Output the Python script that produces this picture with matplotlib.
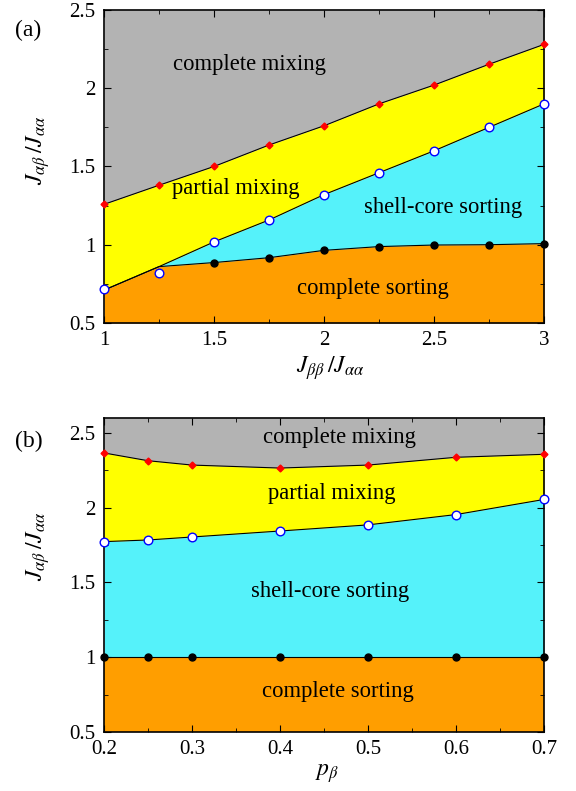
import numpy as np
import matplotlib.pyplot as plt
from matplotlib.ticker import MultipleLocator

plt.rcParams['font.family'] = ['Liberation Serif', 'DejaVu Serif']
plt.rcParams['mathtext.fontset'] = 'stix'

# --- panel (a) data ---
x_a = [1, 1.25, 1.5, 1.75, 2, 2.25, 2.5, 2.75, 3]
red_a = [1.258, 1.38, 1.50, 1.637, 1.76, 1.90, 2.02, 2.153, 2.28]
blue_a = [0.715, 0.82, 1.018, 1.158, 1.32, 1.46, 1.60, 1.75, 1.90]
black_x_a = [1.5, 1.75, 2, 2.25, 2.5, 2.75, 3]
black_a = [0.886, 0.917, 0.964, 0.988, 0.998, 1.0, 1.007]
# region boundaries (lines) in panel (a)
upper_line_a = [0.71, 0.86, 1.018, 1.158, 1.32, 1.46, 1.60, 1.75, 1.90]
lower_line_a = [0.71, 0.86, 0.886, 0.917, 0.964, 0.988, 0.998, 1.0, 1.007]

# --- panel (b) data ---
x_b = [0.2, 0.25, 0.3, 0.4, 0.5, 0.6, 0.7]
red_b = [2.366, 2.314, 2.285, 2.265, 2.285, 2.337, 2.357]
blue_b = [1.773, 1.784, 1.804, 1.844, 1.885, 1.954, 2.055]
black_b = [1.0, 1.0, 1.0, 1.0, 1.0, 1.0, 1.0]

c_gray = '#b3b3b3'
c_yellow = '#ffff00'
c_cyan = '#55f2fa'
c_orange = '#ff9e00'

fig = plt.figure(figsize=(5.76, 7.91), dpi=100)
ax1 = fig.add_axes([0.1806, 0.5917, 0.7639, 0.3957])
ax2 = fig.add_axes([0.1806, 0.0746, 0.7639, 0.397])


def draw_panel(ax, x, red, up, low, ylim):
    x = np.asarray(x)
    ax.fill_between(x, red, ylim[1], color=c_gray, lw=0)
    ax.fill_between(x, up, red, color=c_yellow, lw=0)
    ax.fill_between(x, low, up, color=c_cyan, lw=0)
    ax.fill_between(x, ylim[0], low, color=c_orange, lw=0)
    ax.plot(x, red, color='k', lw=0.8)
    ax.plot(x, up, color='k', lw=0.8)
    ax.plot(x, low, color='k', lw=0.8)


def style(ax):
    ax.tick_params(which='both', direction='in', top=True, right=True,
                   labelsize=15, pad=6)
    ax.tick_params(which='major', length=5)
    ax.tick_params(which='minor', length=3)
    for s in ax.spines.values():
        s.set_linewidth(1.2)


# panel (a)
draw_panel(ax1, x_a, red_a, upper_line_a, lower_line_a, (0.5, 2.5))
ax1.plot(x_a, red_a, 'D', color='red', ms=3.5, mec='red', clip_on=False, zorder=5)
ax1.plot(x_a, blue_a, 'o', mfc='white', mec='blue', mew=1.0, ms=6.2, clip_on=False, zorder=5)
ax1.plot(black_x_a, black_a, 'o', color='k', ms=5, clip_on=False, zorder=5)
ax1.set_xlim(1, 3)
ax1.set_ylim(0.5, 2.5)
ax1.set_xticks([1, 1.5, 2, 2.5, 3])
ax1.set_xticklabels(['1', '1.5', '2', '2.5', '3'])
ax1.xaxis.set_minor_locator(MultipleLocator(0.25))
ax1.set_yticks([0.5, 1, 1.5, 2, 2.5])
ax1.set_yticklabels(['0.5', '1', '1.5', '2', '2.5'])
ax1.yaxis.set_minor_locator(MultipleLocator(0.25))
style(ax1)
ax1.set_xlabel(r'$J_{\beta\beta}\,/J_{\alpha\alpha}$', fontsize=17, labelpad=4)
ax1.set_ylabel(r'$J_{\alpha\beta}\,/J_{\alpha\alpha}$', fontsize=17)
ax1.yaxis.set_label_coords(-0.118, 0.55)
ax1.xaxis.set_label_coords(0.515, -0.1)
ax1.text(1.66, 2.15, 'complete mixing', fontsize=16.3, ha='center', va='center')
ax1.text(1.6, 1.36, 'partial mixing', fontsize=16.3, ha='center', va='center')
ax1.text(2.54, 1.24, 'shell-core sorting', fontsize=16.3, ha='center', va='center')
ax1.text(2.22, 0.72, 'complete sorting', fontsize=16.3, ha='center', va='center')
fig.text(0.026, 0.962, '(a)', fontsize=17, ha='left', va='center')

# panel (b)
draw_panel(ax2, x_b, red_b, blue_b, black_b, (0.5, 2.6))
ax2.plot(x_b, red_b, 'D', color='red', ms=3.5, mec='red', clip_on=False, zorder=5)
ax2.plot(x_b, blue_b, 'o', mfc='white', mec='blue', mew=1.0, ms=6.2, clip_on=False, zorder=5)
ax2.plot(x_b, black_b, 'o', color='k', ms=5, clip_on=False, zorder=5)
ax2.set_xlim(0.2, 0.7)
ax2.set_ylim(0.5, 2.6)
ax2.set_xticks([0.2, 0.3, 0.4, 0.5, 0.6, 0.7])
ax2.set_xticklabels(['0.2', '0.3', '0.4', '0.5', '0.6', '0.7'])
ax2.xaxis.set_minor_locator(MultipleLocator(0.05))
ax2.set_yticks([0.5, 1, 1.5, 2, 2.5])
ax2.set_yticklabels(['0.5', '1', '1.5', '2', '2.5'])
ax2.yaxis.set_minor_locator(MultipleLocator(0.25))
style(ax2)
ax2.set_xlabel(r'$p_{\beta}$', fontsize=17)
ax2.set_ylabel(r'$J_{\alpha\beta}\,/J_{\alpha\alpha}$', fontsize=17)
ax2.yaxis.set_label_coords(-0.118, 0.592)
ax2.xaxis.set_label_coords(0.506, -0.095)
ax2.text(0.467, 2.47, 'complete mixing', fontsize=16.3, ha='center', va='center')
ax2.text(0.459, 2.097, 'partial mixing', fontsize=16.3, ha='center', va='center')
ax2.text(0.457, 1.44, 'shell-core sorting', fontsize=16.3, ha='center', va='center')
ax2.text(0.466, 0.77, 'complete sorting', fontsize=16.3, ha='center', va='center')
fig.text(0.026, 0.4425, '(b)', fontsize=17, ha='left', va='center')

fig.savefig('out.png', dpi=100)
